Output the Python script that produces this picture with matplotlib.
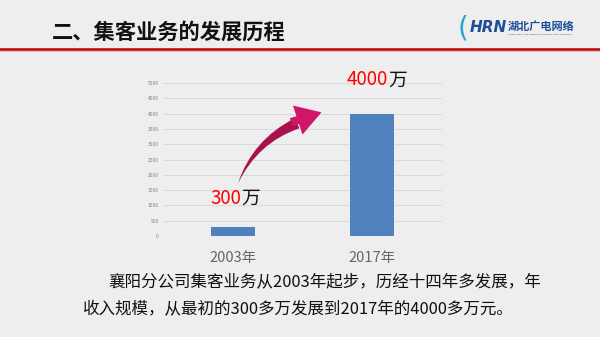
import matplotlib
matplotlib.use("Agg")
import matplotlib.pyplot as plt
from matplotlib.patches import FancyArrowPatch

plt.rcParams['font.family'] = ['Noto Sans CJK SC', 'DejaVu Sans']

categories = ["2003年", "2017年"]
values = [300, 4000]
yticks = [0, 500, 1000, 1500, 2000, 2500, 3000, 3500, 4000, 4500, 5000]
title = "二、集客业务的发展历程"
body1 = "襄阳分公司集客业务从2003年起步，历经十四年多发展，年"
body2 = "收入规模，从最初的300多万发展到2017年的4000多万元。"

fig = plt.figure(figsize=(6, 3.37), dpi=100, facecolor="#eeeeee")

ax = fig.add_axes([163/600, 1-236/337, 279/600, 153/337])
ax.set_facecolor("none")
x = list(range(len(categories)))
ax.bar(x, values, width=0.315, color="#4f81bd", zorder=3)
ax.set_xlim(-0.5, 1.5)
ax.set_ylim(0, 5000)
ax.set_yticks(yticks)
ax.set_yticklabels([str(v) for v in yticks], fontsize=3.5, color="#7f7f7f")
ax.set_xticks(x)
ax.set_xticklabels(categories, fontsize=10.5, color="#666666")
ax.tick_params(axis='both', length=0, pad=3)
ax.tick_params(axis='x', pad=11)
ax.grid(axis='y', color="#d9d9d9", linewidth=0.7, zorder=0)
for s in ax.spines.values():
    s.set_visible(False)

# value annotations
ax.text(0.06, 1240, str(values[0]), color="#ff0000", fontsize=13.5, ha='right', va='center', clip_on=False)
ax.text(0.06, 1240, "万", color="#111111", fontsize=13.5, ha='left', va='center', clip_on=False)
ax.text(1.113, 5100, str(values[1]), color="#ff0000", fontsize=13.5, ha='right', va='center', clip_on=False)
ax.text(1.113, 5100, "万", color="#111111", fontsize=13.5, ha='left', va='center', clip_on=False)

# curved arrow: tapered body + head
body = FancyArrowPatch((0.48, 3720), (0.03, 1630),
                       connectionstyle="arc3,rad=0.22",
                       arrowstyle="wedge,tail_width=0.8,shrink_factor=0.5",
                       mutation_scale=10, color="#a8114e", clip_on=False, zorder=4, lw=0)
ax.add_patch(body)
head = FancyArrowPatch((0.40, 3690), (0.655, 4070),
                       arrowstyle="simple,head_length=1.8,head_width=2.2,tail_width=0.6",
                       mutation_scale=10, color="#d1156a", clip_on=False, zorder=5, lw=0)
ax.add_patch(head)

# header
fig.text(52/600, 1-32/337, title, fontsize=15.3, fontweight='bold', color="#111111", va='center', ha='left')
fig.add_artist(plt.Line2D([0, 1], [1-49/337, 1-49/337], color="#c00000", linewidth=1.8))
fig.add_artist(plt.Line2D([0, 1], [1-51/337, 1-51/337], color="#d9b0b0", linewidth=0.6))

# logo
fig.text(470/600, 1-27/337, "HRN", fontsize=11, fontweight='bold', style='italic', color="#1f4e9a", va='center', ha='left', family=['DejaVu Sans'])
fig.text(508/600, 1-26/337, "湖北广电网络", fontsize=8, fontweight='bold', color="#1f4e9a", va='center', ha='left')
fig.text(508/600, 1-34/337, "HUBEI RADIO AND TELEVISION INFORMATION NETWORK", fontsize=1.6, color="#1f4e9a", va='center', ha='left', family=['DejaVu Sans'])
fig.text(458/600, 1-28/337, "(", fontsize=20, color="#29a3d6", va='center', ha='left', family=['DejaVu Sans'])

# body text
fig.text(108/600, 1-282/337, body1, fontsize=11.9, color="#111111", va='center', ha='left')
fig.text(83/600, 1-310/337, body2, fontsize=11.9, color="#111111", va='center', ha='left')

fig.savefig("out.png", dpi=100, facecolor=fig.get_facecolor())
